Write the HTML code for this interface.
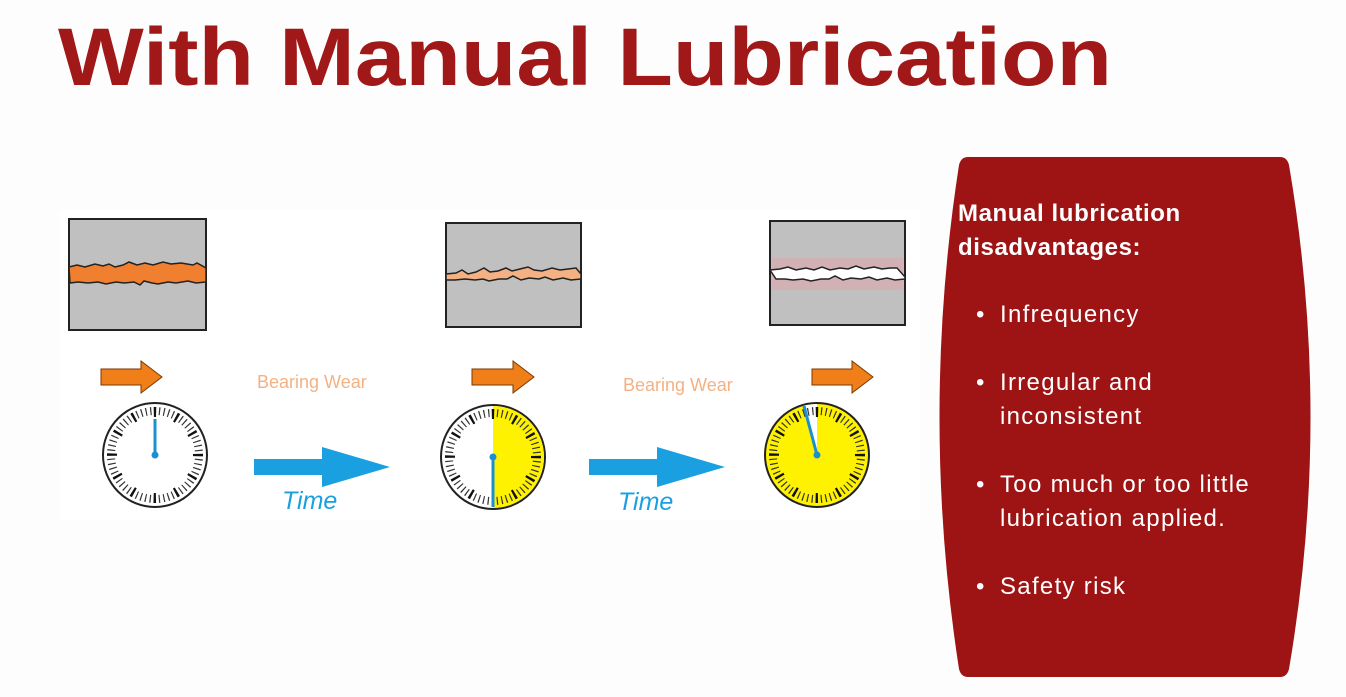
<!DOCTYPE html>
<html><head><meta charset="utf-8"><style>
html,body{margin:0;padding:0;background:#fdfdfd;}
svg{display:block}
</style></head><body>
<svg width="1346" height="697" viewBox="0 0 1346 697" xmlns="http://www.w3.org/2000/svg">
<rect width="1346" height="697" fill="#fdfdfd"/>
<text x="58" y="85" font-family="Liberation Sans, sans-serif" font-weight="bold" font-size="82" fill="#a01818" textLength="1054" lengthAdjust="spacingAndGlyphs">With Manual Lubrication</text>

<rect x="60" y="210" width="860" height="310" fill="#ffffff"/>

<rect x="69" y="219" width="137" height="111" fill="#c0c0c0" stroke="#222" stroke-width="2"/>
<path d="M69,267 l8,-2 8,2 10,-3 8,2 6,-2 6,3 8,-2 6,-3 8,3 8,-2 8,2 10,-3 8,2 10,-1 12,2 4,-2 L206,268 L206,282 l-10,1 -8,-2 -12,2 -8,-1 -10,2 -6,-1 -8,-2 -4,4 -6,-3 -10,1 -8,-1 -10,2 -8,-2 -10,1 -10,-1 -8,1 Z" fill="#f08030" stroke="#222" stroke-width="1.5"/>
<rect x="446" y="223" width="135" height="104" fill="#c0c0c0" stroke="#222" stroke-width="2"/>
<path d="M446,274 l10,-1 6,-3 6,4 8,-2 8,-4 6,4 8,-1 8,-3 6,3 8,-2 8,-2 6,3 8,1 10,-3 8,2 8,-1 8,-1 L581,274 L581,279 l-10,1 -8,-2 -10,2 -8,-3 -6,2 -10,-1 -8,2 -8,-4 -6,3 -8,0 -10,2 -6,-2 -8,1 -10,-1 -10,1 -9,0 Z" fill="#f4b183" stroke="#222" stroke-width="1.5"/>
<rect x="770" y="221" width="135" height="104" fill="#c0c0c0" stroke="#222" stroke-width="2"/>
<rect x="772" y="258" width="131" height="32" fill="#e8a0a8" opacity="0.45"/>
<path d="M770,270 l10,-1 8,-2 8,3 10,-2 8,2 8,-3 8,3 10,-2 8,1 8,-3 8,3 10,-2 8,2 8,-1 7,0 L905,277 L905,279 l-10,1 -8,-2 -10,2 -8,-3 -8,2 -10,-1 -8,2 -8,-4 -6,3 -8,0 -10,2 -8,-2 -10,1 -8,-1 -9,0 Z" fill="#fff" stroke="#222" stroke-width="1.5"/>

<g fill="#f07f1a" stroke="#7a3a00" stroke-width="1">
<path d="M101,369 h40 v-8 l21,16 -21,16 v-8 h-40 Z"/>
<path d="M472,369 h41 v-8 l21,16 -21,16 v-8 h-41 Z"/>
<path d="M812,369 h40 v-8 l21,16 -21,16 v-8 h-40 Z"/>
</g>
<g font-family="Liberation Sans, sans-serif" font-size="18" fill="#f4b183">
<text x="257" y="388">Bearing Wear</text>
<text x="623" y="391">Bearing Wear</text>
</g>

<g fill="#1aa0e0">
<path d="M254,459 h68 v-12 l68,20 -68,20 v-12 h-68 Z"/>
<path d="M589,459 h68 v-12 l68,20 -68,20 v-12 h-68 Z"/>
</g>
<g font-family="Liberation Sans, sans-serif" font-style="italic" font-size="25" fill="#1aa0e0">
<text x="282" y="509">Time</text>
<text x="618" y="510">Time</text>
</g>

<g transform="translate(155,455)">
<circle r="52" fill="#fff" stroke="#222" stroke-width="2"/>
<circle r="44" fill="none" stroke="#333" stroke-width="8" stroke-dasharray="1.2 3.407" transform="rotate(-90.8)"/>
<circle r="43" fill="none" stroke="#111" stroke-width="10" stroke-dasharray="2.4 20.12" transform="rotate(-91.6)"/>
<line x1="0" y1="0" x2="0" y2="-36" stroke="#1a90d0" stroke-width="3"/>
<circle r="3.5" fill="#1a90d0"/>
</g>
<g transform="translate(493,457)">
<circle r="52" fill="#fff" stroke="#222" stroke-width="2"/>
<path d="M0,-51 A51,51 0 0 1 0,51 Z" fill="#fff200"/>
<circle r="44" fill="none" stroke="#333" stroke-width="8" stroke-dasharray="1.2 3.407" transform="rotate(-90.8)"/>
<circle r="43" fill="none" stroke="#111" stroke-width="10" stroke-dasharray="2.4 20.12" transform="rotate(-91.6)"/>
<line x1="0" y1="0" x2="0" y2="50" stroke="#1a90d0" stroke-width="3"/>
<circle r="3.5" fill="#1a90d0"/>
</g>
<g transform="translate(817,455)">
<circle r="52" fill="#fff200" stroke="#222" stroke-width="2"/>
<path d="M0,0 L-14,-49 A51,51 0 0 1 0,-51 Z" fill="#fff"/>
<circle r="44" fill="none" stroke="#333" stroke-width="8" stroke-dasharray="1.2 3.407" transform="rotate(-90.8)"/>
<circle r="43" fill="none" stroke="#111" stroke-width="10" stroke-dasharray="2.4 20.12" transform="rotate(-91.6)"/>
<line x1="0" y1="0" x2="-13" y2="-49" stroke="#1a90d0" stroke-width="3"/>
<circle r="3.5" fill="#1a90d0"/>
</g>

<path d="M968,157 L1280,157 Q1287,157 1289,165 Q1332,417 1289,669 Q1287,677 1280,677 L968,677 Q961,677 959,669 Q920,417 959,165 Q961,157 968,157 Z" fill="#9e1313"/>
<g font-family="Liberation Sans, sans-serif" fill="#fff">
<text x="958" y="221" font-size="24" font-weight="bold" letter-spacing="0.6">Manual lubrication</text>
<text x="958" y="255" font-size="24" font-weight="bold" letter-spacing="0.6">disadvantages:</text>
<g font-size="24" letter-spacing="1.3">
<text x="976" y="322">•</text><text x="1000" y="322">Infrequency</text>
<text x="976" y="390">•</text><text x="1000" y="390">Irregular and</text>
<text x="1000" y="424">inconsistent</text>
<text x="976" y="492">•</text><text x="1000" y="492">Too much or too little</text>
<text x="1000" y="526">lubrication applied.</text>
<text x="976" y="594">•</text><text x="1000" y="594">Safety risk</text>
</g>
</g>
</svg>
</body></html>
